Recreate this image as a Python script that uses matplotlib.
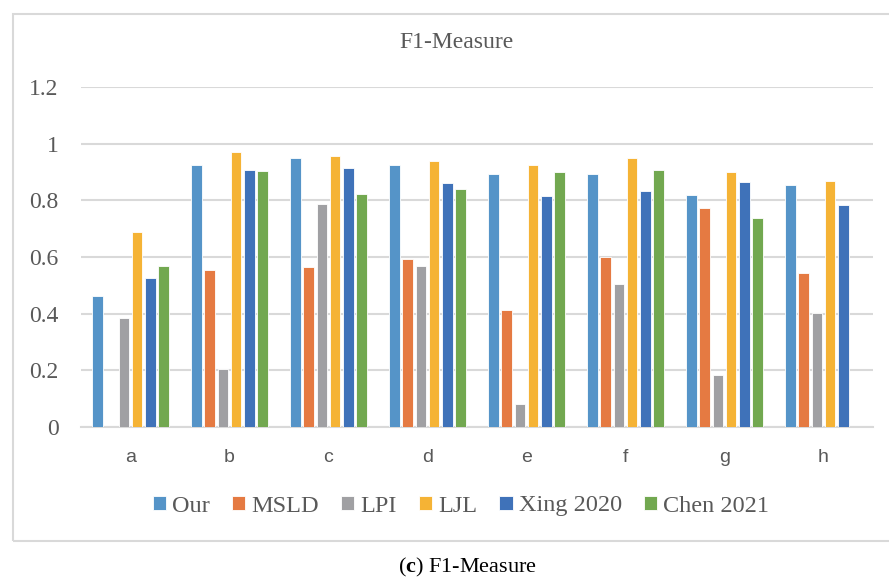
import matplotlib.pyplot as plt
import numpy as np
from matplotlib.patches import Rectangle

# F1-Measure per test sequence
categories = ['a', 'b', 'c', 'd', 'e', 'f', 'g', 'h']
methods = ['Our', 'MSLD', 'LPI', 'LJL', 'Xing 2020', 'Chen 2021']
our = [0.461, 0.926, 0.948, 0.926, 0.894, 0.892, 0.820, 0.853]
msld = [0.0, 0.555, 0.564, 0.594, 0.412, 0.601, 0.772, 0.542]
lpi = [0.386, 0.205, 0.786, 0.567, 0.082, 0.505, 0.182, 0.402]
ljl = [0.688, 0.969, 0.955, 0.938, 0.926, 0.949, 0.901, 0.869]
xing = [0.526, 0.906, 0.914, 0.862, 0.816, 0.832, 0.864, 0.785]
chen = [0.568, 0.904, 0.824, 0.841, 0.900, 0.908, 0.736, 0.0]
yticks = [0, 0.2, 0.4, 0.6, 0.8, 1, 1.2]
ytick_labels = ['0', '0.2', '0.4', '0.6', '0.8', '1', '1.2']

colors = ['#5594C8', '#E57A42', '#A0A0A3', '#F5B335', '#3F72B9', '#72A850']
series = [our, msld, lpi, ljl, xing, chen]

plt.rcParams['font.family'] = ['Liberation Serif', 'DejaVu Serif']
plt.rcParams['mathtext.fontset'] = 'custom'
plt.rcParams['mathtext.rm'] = 'Liberation Serif'
plt.rcParams['mathtext.bf'] = 'Liberation Serif:bold'
txt = '#595959'

fig = plt.figure(figsize=(8.89, 5.81), dpi=100)
ax = fig.add_axes([81 / 889, 1 - 427 / 581, (873 - 81) / 889, (427 - 87) / 581])

x = np.arange(len(categories))
slot = 0.133
width = 0.108
for i, (vals, name, c) in enumerate(zip(series, methods, colors)):
    ax.bar(x + (i - 2.5) * slot, vals, width, color=c, label=name,
           edgecolor='white', linewidth=0.6, zorder=3)

ax.set_xlim(-0.5, len(categories) - 0.5)
ax.set_ylim(0, 1.2)
ax.set_yticks(yticks)
ax.set_yticklabels(ytick_labels, fontsize=17, color=txt)
ax.set_xticks(x)
ax.set_xticklabels(categories, fontsize=14, color=txt, family='Liberation Sans')
ax.tick_params(axis='both', length=0)
ax.tick_params(axis='y', pad=16)
ax.tick_params(axis='x', pad=16)
ax.grid(axis='y', color='#D9D9D9', linewidth=1.5, zorder=0)
for s in ['top', 'right', 'left']:
    ax.spines[s].set_visible(False)
ax.spines['bottom'].set_color('#D9D9D9')
ax.spines['bottom'].set_linewidth(1.5)

fig.text(456 / 889, 1 - 42 / 581, 'F1-Measure', ha='center', va='center',
         fontsize=17, color=txt)

handles, labels = ax.get_legend_handles_labels()
fig.legend(handles, labels, loc='center', bbox_to_anchor=(461 / 889, 1 - 506 / 581),
           ncol=6, frameon=False, fontsize=17.5, labelcolor=txt,
           handlelength=0.55, handleheight=0.55, handletextpad=0.25,
           columnspacing=0.9)

# outer chart frame
fig.patches.append(Rectangle((13 / 889, 1 - 541 / 581), 1.0, (541 - 14) / 581,
                             transform=fig.transFigure, fill=False,
                             edgecolor='#D9D9D9', linewidth=1.5))

fig.text(468 / 889, 1 - 567 / 581, r'($\mathbf{c}$) F1-Measure', ha='center',
         va='center', fontsize=16, color='black')

fig.savefig('out.png', dpi=100)
